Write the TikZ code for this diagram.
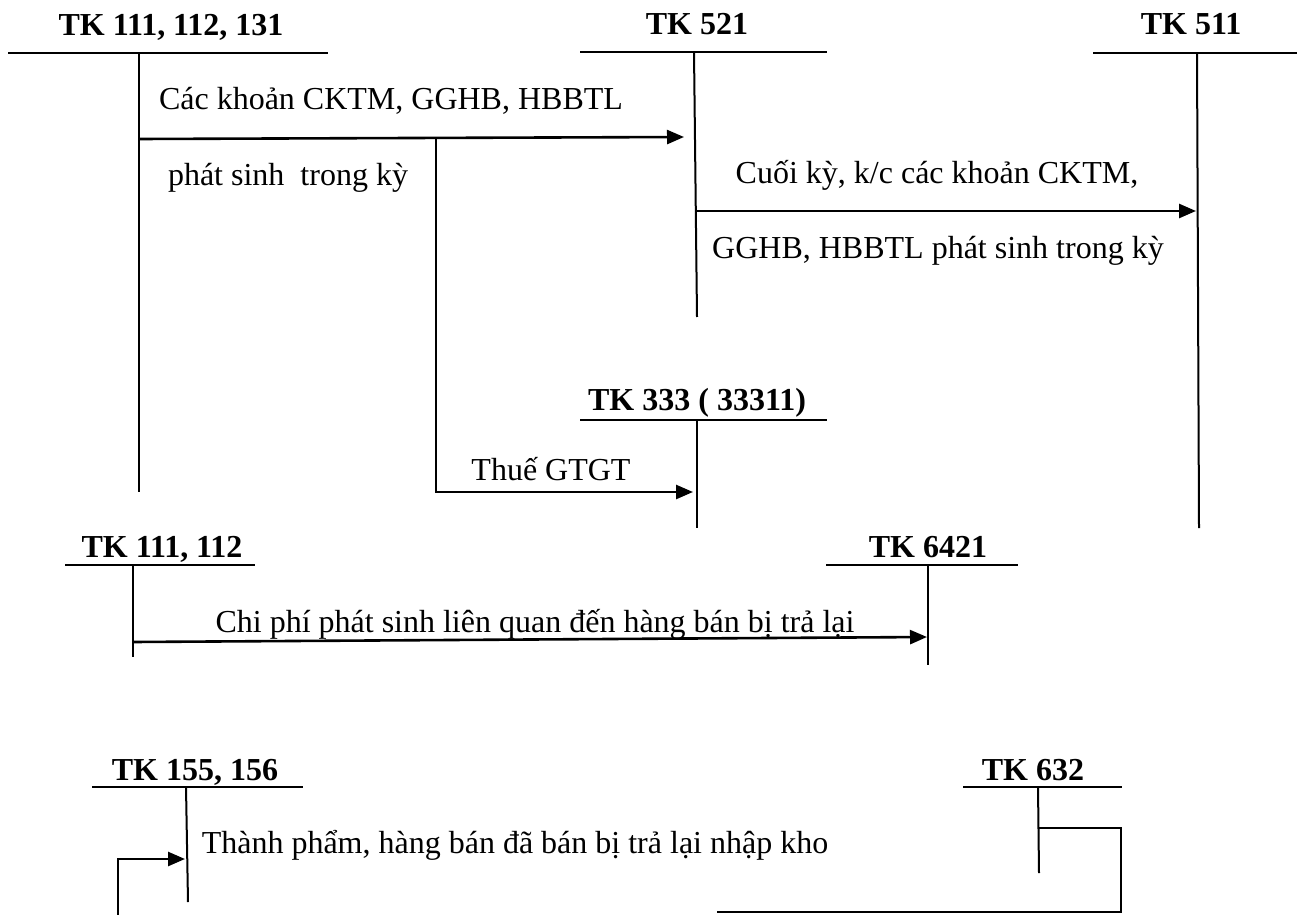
\documentclass[tikz,border=0pt]{standalone}
\usepackage{fontspec}
\setmainfont{Liberation Serif}
\usetikzlibrary{arrows.meta}
\begin{document}
\begin{tikzpicture}[x=1pt,y=-1pt,
  tline/.style={line width=2pt},
  flow/.style={line width=2.6pt,-{Triangle[length=17pt,width=14pt]}},
  link/.style={line width=2.6pt},
  acct/.style={font=\fontsize{32}{38}\selectfont\bfseries, inner sep=0pt, anchor=base},
  lbl/.style={font=\fontsize{32}{38}\selectfont, inner sep=0pt, anchor=base}]
\useasboundingbox[fill=white] (0,0) rectangle (1298,915);

% TK 111, 112, 131
\node[acct] (a1) at (171,36) {TK 111, 112, 131};
\coordinate (a1l) at (8,53); \coordinate (a1r) at (328,53);
\coordinate (a1t) at (139,53); \coordinate (a1b) at (139,492);
\draw[tline] (a1l) -- (a1r); \draw[tline] (a1t) -- (a1b);

% TK 521
\node[acct] (a2) at (697,35) {TK 521};
\coordinate (a2l) at (580,52); \coordinate (a2r) at (827,52);
\coordinate (a2t) at (694,52); \coordinate (a2b) at (697,317);
\draw[tline] (a2l) -- (a2r); \draw[tline] (a2t) -- (a2b);

% TK 511
\node[acct] (a3) at (1191,35) {TK 511};
\coordinate (a3l) at (1093,53); \coordinate (a3r) at (1297,53);
\coordinate (a3t) at (1197,53); \coordinate (a3b) at (1199,528);
\draw[tline] (a3l) -- (a3r); \draw[tline] (a3t) -- (a3b);

% TK 333 (33311)
\node[acct] (a4) at (697,410) {TK 333 ( 33311)};
\coordinate (a4l) at (580,420); \coordinate (a4r) at (827,420);
\coordinate (a4t) at (697,420); \coordinate (a4b) at (697,528);
\draw[tline] (a4l) -- (a4r); \draw[tline] (a4t) -- (a4b);

% TK 111, 112
\node[acct] (a5) at (162,557) {TK 111, 112};
\coordinate (a5l) at (65,565); \coordinate (a5r) at (255,565);
\coordinate (a5t) at (133,565); \coordinate (a5b) at (133,657);
\draw[tline] (a5l) -- (a5r); \draw[tline] (a5t) -- (a5b);

% TK 6421
\node[acct] (a6) at (928,557) {TK 6421};
\coordinate (a6l) at (826,565); \coordinate (a6r) at (1018,565);
\coordinate (a6t) at (928,565); \coordinate (a6b) at (928,665);
\draw[tline] (a6l) -- (a6r); \draw[tline] (a6t) -- (a6b);

% TK 155, 156
\node[acct] (a7) at (195,780) {TK 155, 156};
\coordinate (a7l) at (92,787); \coordinate (a7r) at (303,787);
\coordinate (a7t) at (186,787); \coordinate (a7b) at (188,902);
\draw[tline] (a7l) -- (a7r); \draw[tline] (a7t) -- (a7b);

% TK 632
\node[acct] (a8) at (1033,780) {TK 632};
\coordinate (a8l) at (963,787); \coordinate (a8r) at (1122,787);
\coordinate (a8t) at (1038,787); \coordinate (a8b) at (1039,873);
\draw[tline] (a8l) -- (a8r); \draw[tline] (a8t) -- (a8b);

% flow 1: 111,112,131 -> 521
\coordinate (f1s) at (139,139); \coordinate (f1e) at (684,137);
\draw[flow] (f1s) -- (f1e);
\node[lbl] (l1a) at (391,110) {Các khoản CKTM, GGHB, HBBTL};
\node[lbl] (l1b) at (288,185) {phát sinh\ \ trong kỳ};

% branch to 333
\coordinate (b1s) at (436,138); \coordinate (b1c) at (436,492); \coordinate (b1e) at (693,492);
\draw[flow] (b1s) -- (b1c) -- (b1e);
\node[lbl] (l2) at (551,480) {Thuế GTGT};

% flow 2: 521 -> 511
\coordinate (f2s) at (696,211); \coordinate (f2e) at (1196,211);
\draw[flow] (f2s) -- (f2e);
\node[lbl] (l3a) at (937,183) {Cuối kỳ, k/c các khoản CKTM,};
\node[lbl] (l3b) at (938,258) {GGHB, HBBTL phát sinh trong kỳ};

% flow 3: 111,112 -> 6421
\coordinate (f3s) at (133,642); \coordinate (f3e) at (927,637);
\draw[flow] (f3s) -- (f3e);
\node[lbl] (l4) at (535,632) {Chi phí phát sinh liên quan đến hàng bán bị trả lại};

% flow 4: 632 -> 155,156
\coordinate (f4s) at (1039,828); \coordinate (f4c1) at (1121,828);
\coordinate (f4c2) at (1121,912); \coordinate (f4c3) at (717,912);
\draw[link] (f4s) -- (f4c1) -- (f4c2) -- (f4c3);
\coordinate (f5s) at (118,915); \coordinate (f5c) at (118,859); \coordinate (f5e) at (185,859);
\draw[flow] (f5s) -- (f5c) -- (f5e);
\node[lbl] (l5) at (515,853) {Thành phẩm, hàng bán đã bán bị trả lại nhập kho};
\end{tikzpicture}
\end{document}
